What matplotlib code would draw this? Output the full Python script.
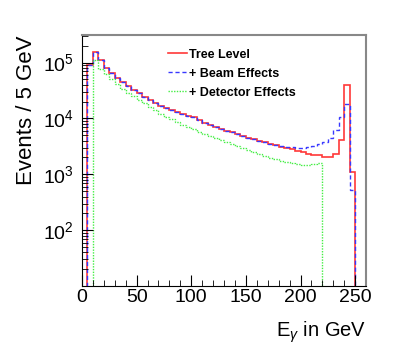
import numpy as np
import matplotlib
matplotlib.use("Agg")
import matplotlib.pyplot as plt
from matplotlib.lines import Line2D

# photon energy spectra, 5 GeV bins
tree_edges = np.arange(5, 255, 5)
tree = [9.0e4, 1.55e5, 1.1e5, 8.1e4, 6.5e4, 5.3e4, 4.5e4, 3.8e4, 3.2e4, 2.8e4,
        2.45e4, 2.15e4, 1.9e4, 1.7e4, 1.55e4, 1.42e4, 1.3e4, 1.2e4, 1.12e4, 1.05e4,
        9.4e3, 8.4e3, 7.6e3, 7.0e3, 6.5e3, 6.0e3, 5.6e3, 5.2e3, 4.9e3, 4.55e3,
        4.25e3, 4.0e3, 3.75e3, 3.5e3, 3.3e3, 3.1e3, 2.95e3, 2.8e3, 2.65e3, 2.5e3,
        2.35e3, 2.25e3, 2.2e3, 2.05e3, 2.05e3, 2.35e3, 4.1e3, 3.9e4, 1.1e3]
beam = [9.0e4, 1.55e5, 1.1e5, 8.1e4, 6.5e4, 5.3e4, 4.5e4, 3.8e4, 3.2e4, 2.8e4,
        2.45e4, 2.15e4, 1.9e4, 1.7e4, 1.55e4, 1.42e4, 1.3e4, 1.2e4, 1.12e4, 1.05e4,
        9.4e3, 8.4e3, 7.6e3, 7.0e3, 6.5e3, 6.0e3, 5.6e3, 5.2e3, 4.9e3, 4.55e3,
        4.25e3, 4.0e3, 3.75e3, 3.5e3, 3.35e3, 3.2e3, 3.1e3, 3.05e3, 3.0e3, 3.0e3,
        3.05e3, 3.2e3, 3.5e3, 3.8e3, 4.4e3, 6.2e3, 1.07e4, 1.8e4, 520]
det_edges = np.arange(10, 225, 5)
det = [1.1e5, 7.8e4, 6.3e4, 5.0e4, 4.1e4, 3.4e4, 2.9e4, 2.5e4, 2.15e4, 1.85e4,
       1.6e4, 1.4e4, 1.22e4, 1.08e4, 9.6e3, 8.6e3, 7.7e3, 7.0e3, 6.4e3, 5.8e3,
       5.3e3, 4.85e3, 4.45e3, 4.1e3, 3.75e3, 3.45e3, 3.2e3, 2.95e3, 2.7e3, 2.5e3,
       2.3e3, 2.1e3, 1.95e3, 1.85e3, 1.75e3, 1.66e3, 1.58e3, 1.5e3, 1.45e3, 1.45e3,
       1.55e3, 1.56e3]
labels = ["Tree Level", "+ Beam Effects", "+ Detector Effects"]

plt.rcParams['font.family'] = ['Liberation Sans', 'DejaVu Sans']
plt.rcParams['mathtext.fontset'] = 'custom'
plt.rcParams['mathtext.rm'] = 'Liberation Sans'
plt.rcParams['mathtext.it'] = 'Liberation Sans:italic'

fig = plt.figure(figsize=(4.07, 3.58), dpi=100)
ax = fig.add_axes([0.2015, 0.201, 0.698, 0.701])

red = '#ff3838'
blue = '#3838ff'
green = '#44ee44'
ax.stairs(tree, tree_edges, baseline=1, color=red, lw=1.2)
ax.stairs(beam, tree_edges, baseline=1, color=blue, lw=1.0, ls=(0, (3, 2)))
ax.stairs(det, det_edges, baseline=1, color=green, lw=1.0, ls=(0, (1, 1)))

ax.set_yscale('log')
ax.set_xlim(0, 260)
ax.set_ylim(10, 3.1e5)
ax.set_xticks(np.arange(0, 260, 50))
ax.set_xticks(np.arange(0, 261, 10), minor=True)
ax.set_yticks([1e2, 1e3, 1e4, 1e5])
ax.set_yticklabels([r'$10^{2}$', r'$10^{3}$', r'$10^{4}$', r'$10^{5}$'])
ax.tick_params(which='both', direction='in', top=False, right=False)
ax.tick_params(axis='x', which='major', length=8, labelsize=14, pad=2)
ax.tick_params(axis='x', which='minor', length=4)
ax.tick_params(axis='y', which='major', length=8, labelsize=14, pad=6)
ax.tick_params(axis='y', which='minor', length=4, labelleft=False)
for s in ['top', 'right']:
    ax.spines[s].set_color('#888888')
    ax.spines[s].set_linewidth(1.5)

ax.set_ylabel('Events / 5 GeV', fontsize=16, loc='top', labelpad=4)
ax.set_xlabel(r'E$_{\gamma}$ in GeV', fontsize=14.5, loc='right', labelpad=10)

handles = [Line2D([], [], color=red, lw=1.2),
           Line2D([], [], color=blue, lw=1.0, ls=(0, (3, 2))),
           Line2D([], [], color=green, lw=1.0, ls=(0, (1, 1)))]
ax.legend(handles, labels, loc='upper left', bbox_to_anchor=(0.398, 0.881),
          bbox_transform=fig.transFigure, frameon=False, borderpad=0,
          handlelength=1.5, handletextpad=0.2, labelspacing=0.55,
          prop={'size': 9, 'weight': 'bold'})

fig.savefig('out.png', dpi=100)
